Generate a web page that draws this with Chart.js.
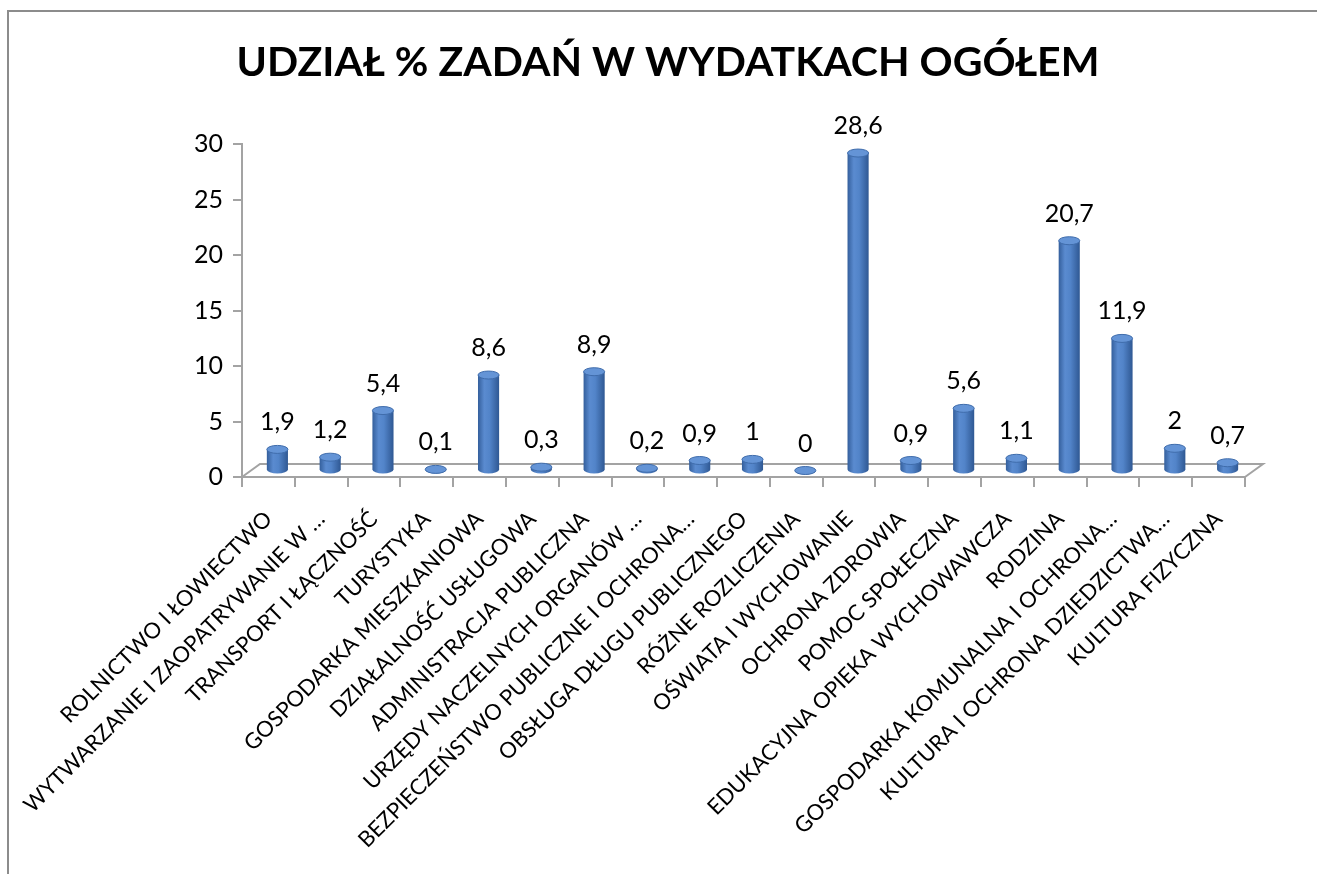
<!DOCTYPE html>
<html>
<head>
<meta charset="utf-8">
<script src="https://cdn.jsdelivr.net/npm/chart.js@4/dist/chart.umd.min.js"></script>
<style>
  html, body { margin: 0; padding: 0; background: #fff; }
  #wrap { position: relative; width: 1317px; height: 874px; overflow: hidden; }
  #frame { position: absolute; left: 7px; top: 10px; width: 1400px; height: 1000px; border: 2px solid #8c8c8c; }
  #chart { position: absolute; left: 0; top: 0; }
</style>
</head>
<body>
<div id="wrap">
  <div id="frame"></div>
  <canvas id="chart" width="1317" height="874"></canvas>
</div>
<script>
const chartTitle = 'UDZIAŁ % ZADAŃ W WYDATKACH OGÓŁEM';
const categories = [
  'ROLNICTWO I ŁOWIECTWO',
  'WYTWARZANIE I ZAOPATRYWANIE W …',
  'TRANSPORT I ŁĄCZNOŚĆ',
  'TURYSTYKA',
  'GOSPODARKA MIESZKANIOWA',
  'DZIAŁALNOŚĆ USŁUGOWA',
  'ADMINISTRACJA PUBLICZNA',
  'URZĘDY NACZELNYCH ORGANÓW …',
  'BEZPIECZEŃSTWO PUBLICZNE I OCHRONA…',
  'OBSŁUGA DŁUGU PUBLICZNEGO',
  'RÓŻNE ROZLICZENIA',
  'OŚWIATA I WYCHOWANIE',
  'OCHRONA ZDROWIA',
  'POMOC SPOŁECZNA',
  'EDUKACYJNA OPIEKA WYCHOWAWCZA',
  'RODZINA',
  'GOSPODARKA KOMUNALNA I OCHRONA…',
  'KULTURA I OCHRONA DZIEDZICTWA…',
  'KULTURA FIZYCZNA'
];
const shares = [1.9, 1.2, 5.4, 0.1, 8.6, 0.3, 8.9, 0.2, 0.9, 1, 0, 28.6, 0.9, 5.6, 1.1, 20.7, 11.9, 2, 0.7];
const yTicks = [0, 5, 10, 15, 20, 25, 30];

const AXIS = '#a3a3a3';
const DEPTH_X = 18, DEPTH_Y = 13;   // 3d floor depth
const fmt = v => String(v).replace('.', ',');

// title sits a bit right of canvas centre, like the original
const titlePlugin = {
  id: 'titleText',
  afterDraw(chart) {
    const { ctx } = chart;
    ctx.save();
    ctx.fillStyle = '#000';
    ctx.font = 'bold 41px Lato';
    ctx.textAlign = 'center';
    ctx.textBaseline = 'alphabetic';
    ctx.fillText(chartTitle, 668, 76);
    ctx.restore();
  }
};

// floor + cylinders drawn from the bar elements
const cylinders = {
  id: 'cylinders',
  beforeDatasetsDraw(chart) {
    const { ctx, chartArea: a } = chart;
    ctx.save();
    ctx.strokeStyle = AXIS;
    ctx.lineWidth = 2;
    ctx.beginPath();
    ctx.moveTo(a.left, a.bottom);
    ctx.lineTo(a.left + DEPTH_X, a.bottom - DEPTH_Y);
    ctx.lineTo(a.right + DEPTH_X, a.bottom - DEPTH_Y);
    ctx.lineTo(a.right, a.bottom);
    ctx.stroke();
    ctx.restore();
  },
  afterDatasetsDraw(chart) {
    const { ctx } = chart;
    const meta = chart.getDatasetMeta(0);
    ctx.save();
    ctx.translate(DEPTH_X / 2, -DEPTH_Y / 2);
    meta.data.forEach((bar, i) => {
      const w = bar.width, x0 = bar.x - w / 2, x1 = bar.x + w / 2;
      const top = bar.y, base = bar.base, ry = 4;
      const g = ctx.createLinearGradient(x0, 0, x1, 0);
      g.addColorStop(0, '#345f9c');
      g.addColorStop(0.3, '#5a8bd0');
      g.addColorStop(0.55, '#5284c9');
      g.addColorStop(1, '#2f5893');
      ctx.fillStyle = g;
      ctx.beginPath();
      ctx.moveTo(x0, top);
      ctx.lineTo(x0, base);
      ctx.ellipse(bar.x, base, w / 2, ry, 0, Math.PI, 0, true);
      ctx.lineTo(x1, top);
      ctx.closePath();
      ctx.fill();
      ctx.fillStyle = '#6494d6';
      ctx.strokeStyle = '#3f6cab';
      ctx.lineWidth = 1;
      ctx.beginPath();
      ctx.ellipse(bar.x, top, w / 2, ry, 0, 0, Math.PI * 2);
      ctx.fill();
      ctx.stroke();

      ctx.fillStyle = '#000';
      ctx.font = '25px Lato';
      ctx.textAlign = 'center';
      ctx.textBaseline = 'middle';
      ctx.fillText(fmt(shares[i]), bar.x, top - 27);
    });
    ctx.restore();
  }
};

new Chart(document.getElementById('chart'), {
  type: 'bar',
  data: {
    labels: categories,
    datasets: [{
      data: shares,
      backgroundColor: 'rgba(0,0,0,0)',
      borderWidth: 0,
      categoryPercentage: 1,
      barPercentage: 0.4
    }]
  },
  options: {
    responsive: false,
    animation: false,
    events: [],
    layout: { padding: { left: 0, right: 72, top: 144, bottom: 0 } },
    plugins: {
      legend: { display: false },
      tooltip: { enabled: false },
      title: { display: false }
    },
    scales: {
      x: {
        afterFit: s => { s.height = 874 - 477; },
        grid: { display: true, drawOnChartArea: false, offset: true, color: AXIS, lineWidth: 2, tickLength: 10 },
        border: { color: AXIS, width: 2 },
        ticks: {
          autoSkip: false, maxRotation: 45, minRotation: 45,
          color: '#000', padding: 19,
          font: { family: 'Lato', size: 22 }
        }
      },
      y: {
        min: 0, max: 30,
        afterFit: s => { s.width = 242; },
        afterBuildTicks: s => { s.ticks = yTicks.map(v => ({ value: v })); },
        grid: { display: true, drawOnChartArea: false, color: AXIS, lineWidth: 2, tickLength: 9 },
        border: { color: AXIS, width: 2 },
        ticks: { color: '#000', padding: 10, font: { family: 'Lato', size: 25 } }
      }
    }
  },
  plugins: [cylinders, titlePlugin]
});
</script>
</body>
</html>
